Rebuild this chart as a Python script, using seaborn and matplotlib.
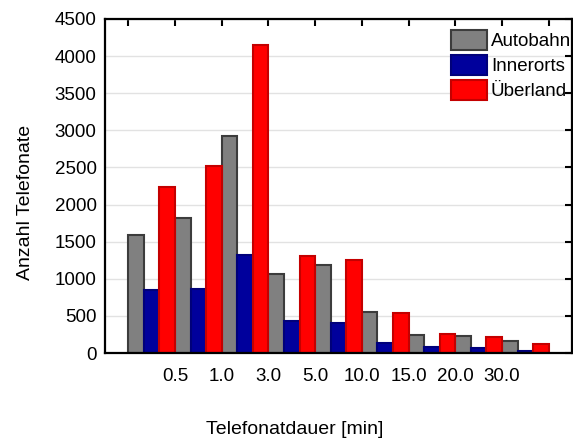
import numpy as np
import pandas as pd
import matplotlib
matplotlib.use("Agg")
import matplotlib.pyplot as plt
import seaborn as sns
from matplotlib.patches import Patch

# Duration classes (minutes) and the class boundaries shown on the x axis
bins = ["<0.5", "0.5-1.0", "1.0-3.0", "3.0-5.0", "5.0-10.0",
        "10.0-15.0", "15.0-20.0", "20.0-30.0", ">30.0"]
boundary_labels = ["0.5", "1.0", "3.0", "5.0", "10.0", "15.0", "20.0", "30.0"]

# Number of calls per duration class and road type
autobahn = [1590, 1825, 2925, 1060, 1185, 550, 245, 228, 165]
innerorts = [845, 868, 1325, 425, 410, 130, 76, 72, 27]
ueberland = [2238, 2525, 4150, 1305, 1253, 545, 256, 220, 126]

series_names = ["Autobahn", "Innerorts", "Überland"]
fill_colors = ["#808080", "#00009c", "#ff0000"]
edge_colors = ["#3c3c3c", "#00007a", "#c40000"]

sns.set_theme(style="white")
plt.rcParams["font.family"] = ["Liberation Sans", "DejaVu Sans"]
plt.rcParams["text.color"] = "black"
plt.rcParams["axes.labelcolor"] = "black"
plt.rcParams["xtick.color"] = "black"
plt.rcParams["ytick.color"] = "black"

df = pd.DataFrame({
    "Telefonatdauer": bins * 3,
    "Anzahl": autobahn + innerorts + ueberland,
    "Strecke": np.repeat(series_names, len(bins)),
})

W, H = 573, 441
fig = plt.figure(figsize=(W / 100, H / 100), dpi=100)
ax = fig.add_axes([105 / W, 1 - 353 / H, (572 - 105) / W, (353 - 19) / H])

sns.barplot(data=df, x="Telefonatdauer", y="Anzahl", hue="Strecke",
            hue_order=series_names, palette=fill_colors, saturation=1,
            width=1.0, dodge=True, errorbar=None, legend=False, ax=ax)

for cont, ec in zip(ax.containers, edge_colors):
    for bar in cont:
        bar.set_edgecolor(ec)
        bar.set_linewidth(1.5)

ax.set_xlim(-1, 9)
ax.set_ylim(0, 4500)
ax.set_xticks(np.arange(-0.5, 9.0, 1.0))
ax.set_xticklabels([""] + boundary_labels + [""])
ax.set_yticks(np.arange(0, 4501, 500))
ax.set_xlabel("")
ax.set_ylabel("")

ax.tick_params(direction="in", length=5, width=1.5, top=True, right=True,
               labelsize=13.5, colors="black")
ax.tick_params(axis="x", pad=11)
ax.tick_params(axis="y", pad=6)

ax.yaxis.grid(True, color="#e2e2e2", linewidth=1.0)
ax.xaxis.grid(False)
ax.set_axisbelow(True)
for sp in ax.spines.values():
    sp.set_visible(True)
    sp.set_color("black")
    sp.set_linewidth(1.6)

fig.text(295 / W, 1 - 429 / H, "Telefonatdauer [min]", ha="center",
         va="center", fontsize=14, color="black")
fig.text(26 / W, 1 - 202 / H, "Anzahl Telefonate", ha="center",
         va="center", rotation=90, fontsize=14, color="black")

handles = [Patch(facecolor=fc, edgecolor=ec, linewidth=1.5, label=n)
           for n, fc, ec in zip(series_names, fill_colors, edge_colors)]
leg = ax.legend(handles=handles, loc="upper left",
                bbox_to_anchor=(451 / W, 1 - 30 / H),
                bbox_transform=fig.transFigure,
                frameon=False, borderpad=0, borderaxespad=0, fontsize=13.5,
                handlelength=1.92, handleheight=1.23, handletextpad=0.21,
                labelspacing=0.27)
for t in leg.get_texts():
    t.set_color("black")

fig.savefig("out.png", dpi=100)
